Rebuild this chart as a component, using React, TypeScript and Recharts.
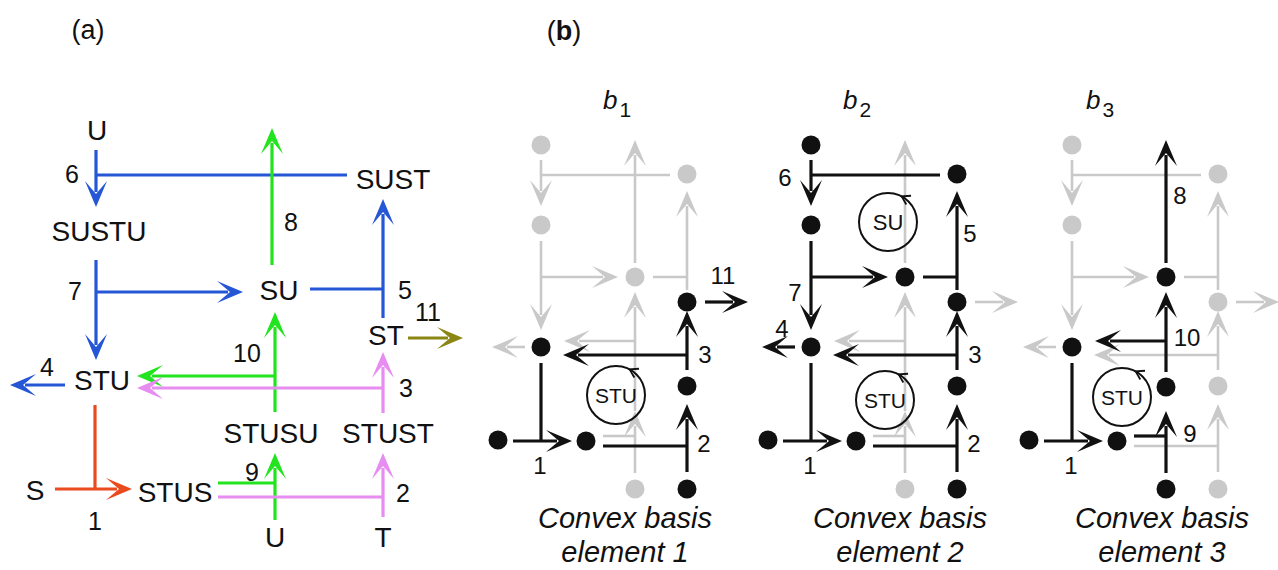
import React from 'react';
import { ScatterChart, Scatter, XAxis, YAxis, ReferenceLine } from 'recharts';

const W = 1278;
const H = 570;
const FONT = '"Liberation Sans", Arial, Helvetica, sans-serif';

// ---------- panel headers ----------
const panelHeaders = [
  { label: 'a', x: 88, y: 29 },
  { label: 'b', x: 564, y: 30 },
];

// ---------- panel (a): reaction network ----------
const aNodeLabels = [
  { label: 'U', x: 97, y: 130 },
  { label: 'SUST', x: 393, y: 179 },
  { label: 'SUSTU', x: 99, y: 231 },
  { label: 'SU', x: 279, y: 290 },
  { label: 'ST', x: 386, y: 335 },
  { label: 'STU', x: 102, y: 380 },
  { label: 'STUSU', x: 271, y: 433 },
  { label: 'STUST', x: 388, y: 433 },
  { label: 'S', x: 35, y: 490 },
  { label: 'STUS', x: 175, y: 492 },
  { label: 'U', x: 275, y: 537 },
  { label: 'T', x: 383, y: 537 },
];

const aReactionNumbers = [
  { label: '6', x: 72, y: 174 },
  { label: '8', x: 291, y: 222 },
  { label: '7', x: 75, y: 291 },
  { label: '5', x: 405, y: 290 },
  { label: '11', x: 428, y: 312 },
  { label: '10', x: 247, y: 353 },
  { label: '4', x: 47, y: 367 },
  { label: '3', x: 406, y: 388 },
  { label: '9', x: 252, y: 472 },
  { label: '2', x: 403, y: 493 },
  { label: '1', x: 95, y: 521 },
];

// segments: [x1, y1, x2, y2, hasArrowHead]
const aBlueSegments = [
  [96, 150, 96, 207, 1],
  [96, 175, 347, 175, 0],
  [96, 260, 96, 360, 1],
  [96, 292, 243, 292, 1],
  [383, 318, 383, 199, 1],
  [310, 289, 383, 289, 0],
  [65, 385, 10, 385, 1],
];
const aGreenSegments = [
  [272, 265, 272, 128, 1],
  [275, 412, 275, 312, 1],
  [275, 376, 137, 376, 1],
  [275, 520, 275, 453, 1],
  [218, 483, 275, 483, 0],
];
const aPinkSegments = [
  [383, 413, 383, 352, 1],
  [383, 388, 137, 388, 1],
  [383, 517, 383, 453, 1],
  [218, 497, 383, 497, 0],
];
const aRedSegments = [
  [95, 405, 95, 489, 0],
  [55, 489, 132, 489, 1],
];
const aOliveSegments = [[408, 338, 463, 338, 1]];

// ---------- panel (b): convex basis elements ----------
// node positions relative to the left column of each element
const bNodes = [
  { name: 'U', x: 0, y: 145 },
  { name: 'SUST', x: 146, y: 174 },
  { name: 'SUSTU', x: 0, y: 225 },
  { name: 'SU', x: 94, y: 277 },
  { name: 'ST', x: 146, y: 302 },
  { name: 'STU', x: 0, y: 347 },
  { name: 'STUSU', x: 94, y: 387 },
  { name: 'STUST', x: 146, y: 386 },
  { name: 'S', x: -43, y: 440 },
  { name: 'STUS', x: 45, y: 441 },
  { name: 'Ubot', x: 94, y: 489 },
  { name: 'T', x: 146, y: 489 },
];

const bReactionSegments = [
  { id: 1, segs: [[-28, 441, 31, 441, 1], [0, 363, 0, 441, 0]] },
  { id: 2, segs: [[146, 472, 146, 404, 1], [62, 446, 146, 446, 0]] },
  { id: 3, segs: [[146, 370, 146, 311, 1], [146, 355, 22, 355, 1]] },
  { id: 4, segs: [[-16, 347, -49, 347, 1]] },
  { id: 5, segs: [[146, 290, 146, 191, 1], [112, 277, 146, 277, 0]] },
  { id: 6, segs: [[0, 160, 0, 206, 1], [0, 175, 129, 175, 0]] },
  { id: 7, segs: [[0, 241, 0, 330, 1], [0, 277, 77, 277, 1]] },
  { id: 8, segs: [[94, 263, 94, 140, 1]] },
  { id: 9, segs: [[94, 473, 94, 411, 1], [62, 436, 94, 436, 0]] },
  { id: 10, segs: [[94, 372, 94, 292, 1], [94, 341, 23, 341, 1]] },
  { id: 11, segs: [[164, 302, 207, 302, 1]] },
];

// grey link drawn through the (undrawn) STUSU node in elements 1 and 2
const bHiddenLinkSegments = [[94, 411, 94, 372, 0]];

const bReactionNumbers = [
  { id: 1, x: -1, y: 465 },
  { id: 2, x: 163, y: 443 },
  { id: 3, x: 164, y: 354 },
  { id: 4, x: -29, y: 328 },
  { id: 5, x: 159, y: 233 },
  { id: 6, x: -26, y: 177 },
  { id: 7, x: -16, y: 292 },
  { id: 8, x: 108, y: 195 },
  { id: 9, x: 118, y: 433 },
  { id: 10, x: 115, y: 337 },
  { id: 11, x: 182, y: 275 },
];

const bPanelLeft = [541, 811, 1072];
const bPanelActive = [
  [1, 2, 3, 11],
  [1, 2, 3, 4, 5, 6, 7],
  [1, 8, 9, 10],
];
const bPanelBlackNodes = [
  ['ST', 'STU', 'STUST', 'S', 'STUS', 'T'],
  ['U', 'SUST', 'SUSTU', 'SU', 'ST', 'STU', 'STUST', 'S', 'STUS', 'T'],
  ['SU', 'STUSU', 'STU', 'S', 'STUS', 'Ubot'],
];
const bPanelHiddenNodes = [['STUSU'], ['STUSU'], []];
const bPanelCycles = [
  [{ label: 'STU', x: 75, y: 395 }],
  [
    { label: 'SU', x: 77, y: 222 },
    { label: 'STU', x: 74, y: 400 },
  ],
  [{ label: 'STU', x: 50, y: 397 }],
];
const bTitles = [
  { main: 'b', sub: '1', x: 603, y: 101 },
  { main: 'b', sub: '2', x: 843, y: 101 },
  { main: 'b', sub: '3', x: 1086, y: 101 },
];
const bCaptions = [
  { line1: 'Convex basis', line2: 'element 1', x: 625 },
  { line1: 'Convex basis', line2: 'element 2', x: 900 },
  { line1: 'Convex basis', line2: 'element 3', x: 1162 },
];
const captionRows = [518, 552];

// ---------- styles ----------
const COLORS = {
  blue: '#2456D6',
  green: '#22E41E',
  pink: '#E78CF0',
  red: '#EA4B1E',
  olive: '#8C8614',
  black: '#111111',
  grey: '#C9C9C9',
  text: '#111111',
};

// ---------- shapes ----------
function ArrowLine(props: any) {
  const { x1, y1, x2, y2, color, width, arrow } = props;
  const X1 = Number(x1), Y1 = Number(y1), X2 = Number(x2), Y2 = Number(y2);
  if (!arrow) {
    return <line x1={X1} y1={Y1} x2={X2} y2={Y2} stroke={color} strokeWidth={width} />;
  }
  const dx = X2 - X1;
  const dy = Y2 - Y1;
  const len = Math.hypot(dx, dy) || 1;
  const ux = dx / len;
  const uy = dy / len;
  const nx = -uy;
  const ny = ux;
  const hl = 26;
  const hw = 11;
  const notch = 13;
  const pts = [
    [X2, Y2],
    [X2 - ux * hl + nx * hw, Y2 - uy * hl + ny * hw],
    [X2 - ux * notch, Y2 - uy * notch],
    [X2 - ux * hl - nx * hw, Y2 - uy * hl - ny * hw],
  ]
    .map((p) => `${p[0].toFixed(2)},${p[1].toFixed(2)}`)
    .join(' ');
  return (
    <g>
      <line
        x1={X1}
        y1={Y1}
        x2={X2 - ux * (notch + 2)}
        y2={Y2 - uy * (notch + 2)}
        stroke={color}
        strokeWidth={width}
      />
      <polygon points={pts} fill={color} />
    </g>
  );
}

const textShape = (fontSize: number, opts: any = {}) => (props: any) => {
  const { cx, cy, payload } = props;
  return (
    <text
      x={cx}
      y={cy + 0.358 * fontSize}
      textAnchor="middle"
      fontSize={fontSize}
      fontFamily={FONT}
      fontStyle={opts.italic ? 'italic' : 'normal'}
      fill={COLORS.text}
    >
      {payload.label}
    </text>
  );
};

const headerShape = (props: any) => {
  const { cx, cy, payload } = props;
  const fs = 27;
  return (
    <text x={cx} y={cy + 0.358 * fs} textAnchor="middle" fontSize={fs} fontFamily={FONT} fill={COLORS.text}>
      (
      <tspan fontWeight={payload.label === 'b' ? 'bold' : 'normal'}>{payload.label}</tspan>)
    </text>
  );
};

const dotShape = (color: string) => (props: any) => {
  const { cx, cy } = props;
  return <circle cx={cx} cy={cy} r={9.5} fill={color} />;
};

const cycleShape = (props: any) => {
  const { cx, cy, payload } = props;
  const r = 29;
  const th = (62 * Math.PI) / 180;
  const px = cx + r * Math.cos(th);
  const py = cy - r * Math.sin(th);
  const tx = -Math.sin(th);
  const ty = -Math.cos(th);
  const nx = -ty;
  const ny = tx;
  const a = 8;
  const b = 5;
  const w1 = `${px - tx * a + nx * b},${py - ty * a + ny * b}`;
  const w2 = `${px - tx * a - nx * b},${py - ty * a - ny * b}`;
  const fs = payload.label === 'SU' ? 22 : 21;
  return (
    <g>
      <circle cx={cx} cy={cy} r={r} fill="none" stroke={COLORS.black} strokeWidth={2} />
      <polyline points={`${w1} ${px},${py} ${w2}`} fill="none" stroke={COLORS.black} strokeWidth={1.8} />
      <text
        x={cx}
        y={cy + 0.358 * fs}
        textAnchor="middle"
        fontSize={fs}
        fontFamily={FONT}
        fill={COLORS.text}
      >
        {payload.label}
      </text>
    </g>
  );
};

const titleShape = (props: any) => {
  const { cx, cy, payload } = props;
  return (
    <text x={cx} y={cy + 8} textAnchor="start" fontFamily={FONT} fill={COLORS.text}>
      <tspan fontSize={26} fontStyle="italic">
        {payload.main}
      </tspan>
      <tspan fontSize={21} dx={2} dy={8}>
        {payload.sub}
      </tspan>
    </text>
  );
};

// ---------- build series from the data ----------
function segLines(segs: number[][], color: string, width: number, keyPrefix: string, dx = 0) {
  return segs.map((s, i) => (
    <ReferenceLine
      key={`${keyPrefix}-${i}`}
      segment={[
        { x: s[0] + dx, y: s[1] },
        { x: s[2] + dx, y: s[3] },
      ]}
      ifOverflow="visible"
      shape={(p: any) => <ArrowLine {...p} color={color} width={width} arrow={s[4] === 1} />}
    />
  ));
}

export default function App() {
  const greyLines: any[] = [];
  const blackLines: any[] = [];
  const greyDots: any[] = [];
  const blackDots: any[] = [];
  const bNumbers: any[] = [];
  const cycles: any[] = [];

  bPanelLeft.forEach((left, pi) => {
    bReactionSegments.forEach((r) => {
      const active = bPanelActive[pi].includes(r.id);
      const lines = segLines(
        r.segs,
        active ? COLORS.black : COLORS.grey,
        active ? 3.2 : 2.6,
        `b${pi}-r${r.id}`,
        left
      );
      (active ? blackLines : greyLines).push(...lines);
    });
    if (bPanelHiddenNodes[pi].includes('STUSU')) {
      greyLines.push(...segLines(bHiddenLinkSegments, COLORS.grey, 2.6, `b${pi}-link`, left));
    }
    bNodes.forEach((n) => {
      if (bPanelHiddenNodes[pi].includes(n.name)) return;
      const pt = { x: left + n.x, y: n.y };
      if (bPanelBlackNodes[pi].includes(n.name)) blackDots.push(pt);
      else greyDots.push(pt);
    });
    bReactionNumbers.forEach((n) => {
      if (bPanelActive[pi].includes(n.id)) bNumbers.push({ label: String(n.id), x: left + n.x, y: n.y });
    });
    bPanelCycles[pi].forEach((c) => cycles.push({ label: c.label, x: left + c.x, y: c.y }));
  });

  const captionData: any[] = [];
  bCaptions.forEach((c) => {
    captionData.push({ label: c.line1, x: c.x, y: captionRows[0] });
    captionData.push({ label: c.line2, x: c.x, y: captionRows[1] });
  });

  return (
    <div style={{ position: 'absolute', left: 0, top: 0, width: W, height: H, background: '#ffffff' }}>
      <ScatterChart width={W} height={H} margin={{ top: 0, right: 0, bottom: 0, left: 0 }}>
        <XAxis type="number" dataKey="x" domain={[0, W]} allowDataOverflow hide />
        <YAxis type="number" dataKey="y" domain={[0, H]} allowDataOverflow reversed hide />

        {segLines(aBlueSegments, COLORS.blue, 3.2, 'ab')}
        {segLines(aGreenSegments, COLORS.green, 3.2, 'ag')}
        {segLines(aPinkSegments, COLORS.pink, 3.2, 'ap')}
        {segLines(aRedSegments, COLORS.red, 3.2, 'ar')}
        {segLines(aOliveSegments, COLORS.olive, 3.2, 'ao')}
        {greyLines}
        {blackLines}

        <Scatter data={panelHeaders} shape={headerShape} isAnimationActive={false} />
        <Scatter data={aNodeLabels} shape={textShape(28)} isAnimationActive={false} />
        <Scatter data={aReactionNumbers} shape={textShape(25)} isAnimationActive={false} />
        <Scatter data={greyDots} shape={dotShape(COLORS.grey)} isAnimationActive={false} />
        <Scatter data={blackDots} shape={dotShape(COLORS.black)} isAnimationActive={false} />
        <Scatter data={bNumbers} shape={textShape(24)} isAnimationActive={false} />
        <Scatter data={cycles} shape={cycleShape} isAnimationActive={false} />
        <Scatter data={bTitles} shape={titleShape} isAnimationActive={false} />
        <Scatter data={captionData} shape={textShape(29, { italic: true })} isAnimationActive={false} />
      </ScatterChart>
    </div>
  );
}
